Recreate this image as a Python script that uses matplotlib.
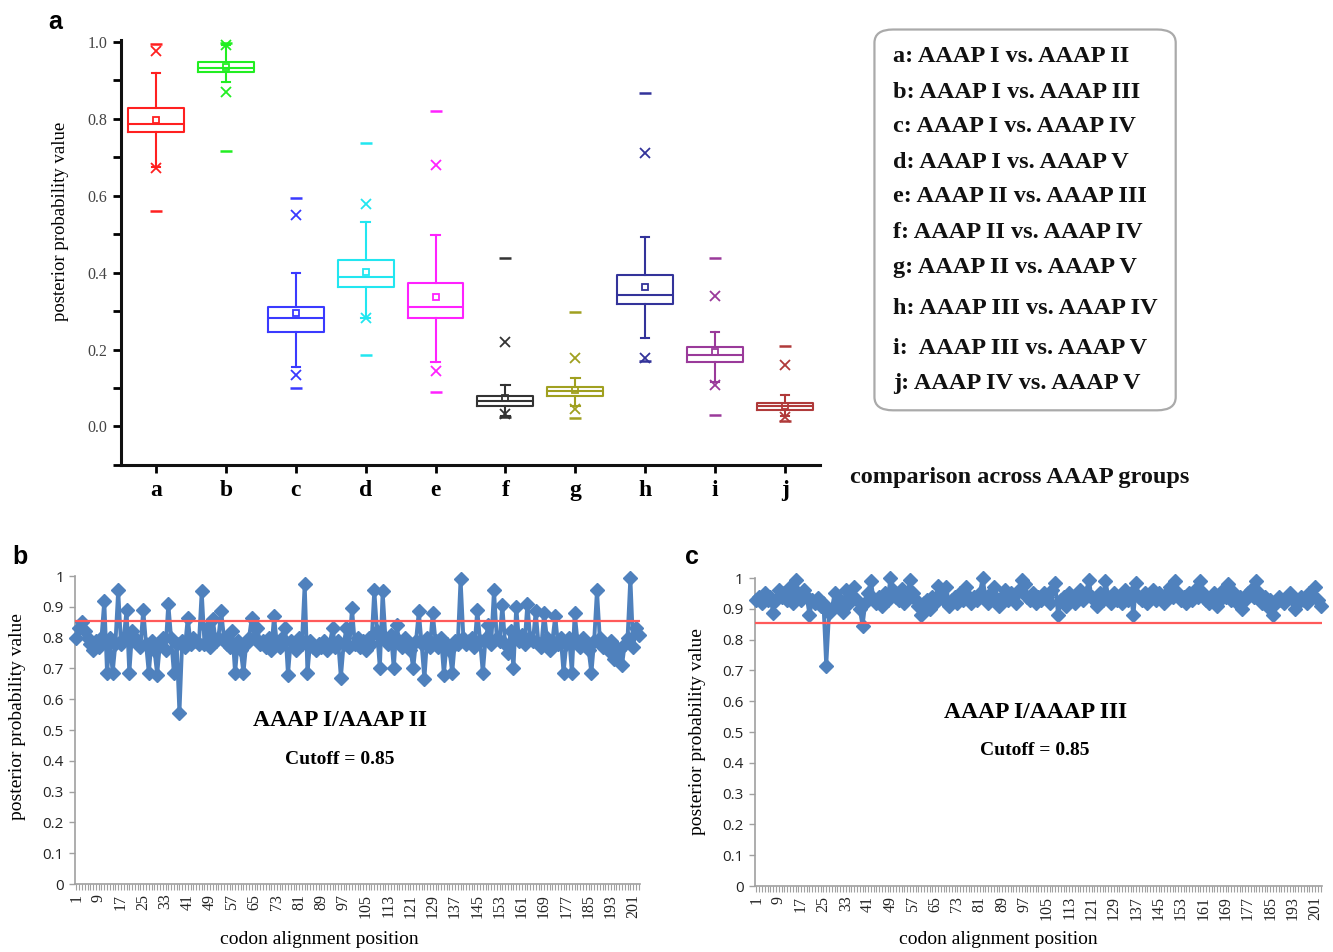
import matplotlib
matplotlib.use('Agg')
import matplotlib.pyplot as plt
from matplotlib.patches import FancyBboxPatch
from matplotlib.ticker import MultipleLocator, FixedLocator

# ---------------- data: panel a (box plots) ----------------
groups = ['a', 'b', 'c', 'd', 'e', 'f', 'g', 'h', 'i', 'j']
box_colors = ['#ff2020', '#22ee22', '#3a3aff', '#22e6f0', '#ff22ff',
              '#333333', '#a0a020', '#33339a', '#9a3a9a', '#b03a3a']
q1 = [0.767, 0.922, 0.247, 0.364, 0.281, 0.053, 0.080, 0.318, 0.168, 0.043]
med = [0.787, 0.931, 0.282, 0.389, 0.312, 0.067, 0.093, 0.342, 0.187, 0.053]
q3 = [0.827, 0.948, 0.312, 0.434, 0.372, 0.079, 0.104, 0.394, 0.207, 0.061]
means = [0.796, 0.935, 0.294, 0.402, 0.338, 0.074, 0.095, 0.363, 0.193, 0.054]
whis_lo = [0.674, 0.896, 0.156, 0.283, 0.169, 0.027, 0.054, 0.230, 0.117, 0.028]
whis_hi = [0.920, 0.991, 0.400, 0.533, 0.497, 0.109, 0.125, 0.492, 0.247, 0.082]
pct_lo = [0.672, 0.869, 0.133, 0.283, 0.145, 0.033, 0.046, 0.178, 0.109, 0.024]
pct_hi = [0.976, 0.993, 0.549, 0.578, 0.679, 0.220, 0.178, 0.711, 0.340, 0.160]
v_min = [0.560, 0.716, 0.099, 0.187, 0.089, 0.024, 0.022, 0.171, 0.030, 0.014]
v_max = [0.994, 0.996, 0.594, 0.737, 0.821, 0.438, 0.299, 0.866, 0.438, 0.210]

legend_lines = ['a: AAAP I vs. AAAP II', 'b: AAAP I vs. AAAP III',
                'c: AAAP I vs. AAAP IV', 'd: AAAP I vs. AAAP V',
                'e: AAAP II vs. AAAP III', 'f: AAAP II vs. AAAP IV',
                'g: AAAP II vs. AAAP V', 'h: AAAP III vs. AAAP IV',
                'i:  AAAP III vs. AAAP V', 'j: AAAP IV vs. AAAP V']

# ---------------- data: panels b, c (per-codon posterior) ----------------
post_I_II = [
    0.80, 0.83, 0.85, 0.82, 0.80, 0.78, 0.76, 0.79, 0.77, 0.80,
    0.92, 0.685, 0.80, 0.685, 0.78, 0.955, 0.78, 0.80, 0.89, 0.685,
    0.82, 0.80, 0.78, 0.77, 0.89, 0.78, 0.685, 0.79, 0.76, 0.68,
    0.78, 0.80, 0.76, 0.91, 0.80, 0.685, 0.78, 0.555, 0.79, 0.77,
    0.865, 0.78, 0.80, 0.79, 0.78, 0.95, 0.78, 0.83, 0.77, 0.86,
    0.79, 0.80, 0.885, 0.80, 0.78, 0.77, 0.82, 0.685, 0.79, 0.76,
    0.685, 0.78, 0.80, 0.865, 0.80, 0.83, 0.78, 0.79, 0.77, 0.80,
    0.76, 0.87, 0.78, 0.77, 0.80, 0.83, 0.68, 0.79, 0.78, 0.76,
    0.80, 0.78, 0.975, 0.685, 0.79, 0.77, 0.76, 0.78, 0.77, 0.79,
    0.76, 0.78, 0.83, 0.77, 0.79, 0.67, 0.78, 0.83, 0.77, 0.895,
    0.78, 0.80, 0.77, 0.79, 0.76, 0.80, 0.78, 0.955, 0.82, 0.70,
    0.95, 0.80, 0.78, 0.81, 0.70, 0.84, 0.79, 0.77, 0.80, 0.78,
    0.76, 0.70, 0.79, 0.885, 0.78, 0.665, 0.80, 0.77, 0.88, 0.79,
    0.77, 0.80, 0.68, 0.78, 0.76, 0.685, 0.79, 0.78, 0.99, 0.80,
    0.78, 0.79, 0.80, 0.77, 0.89, 0.79, 0.685, 0.80, 0.84, 0.78,
    0.955, 0.80, 0.79, 0.905, 0.78, 0.75, 0.82, 0.70, 0.90, 0.79,
    0.81, 0.78, 0.91, 0.80, 0.79, 0.885, 0.78, 0.77, 0.88, 0.80,
    0.76, 0.79, 0.87, 0.78, 0.80, 0.685, 0.78, 0.80, 0.685, 0.88,
    0.79, 0.77, 0.80, 0.78, 0.76, 0.685, 0.79, 0.955, 0.80, 0.77,
    0.78, 0.76, 0.79, 0.73, 0.77, 0.76, 0.71, 0.78, 0.80, 0.995,
    0.77, 0.83, 0.81]

post_I_III = [
    0.93, 0.94, 0.92, 0.95, 0.93, 0.94, 0.885, 0.93, 0.96, 0.94,
    0.95, 0.93, 0.97, 0.92, 0.995, 0.95, 0.93, 0.96, 0.94, 0.88,
    0.93, 0.92, 0.935, 0.91, 0.92, 0.715, 0.885, 0.90, 0.95, 0.91,
    0.93, 0.89, 0.96, 0.92, 0.94, 0.97, 0.93, 0.90, 0.845, 0.92,
    0.95, 0.99, 0.93, 0.92, 0.94, 0.91, 0.95, 0.93, 1.0, 0.96,
    0.94, 0.93, 0.965, 0.92, 0.94, 0.995, 0.95, 0.93, 0.91, 0.88,
    0.92, 0.93, 0.90, 0.94, 0.92, 0.975, 0.95, 0.93, 0.97, 0.91,
    0.93, 0.94, 0.92, 0.95, 0.93, 0.97, 0.94, 0.92, 0.94, 0.93,
    0.95, 1.0, 0.94, 0.92, 0.95, 0.97, 0.93, 0.91, 0.94, 0.96,
    0.93, 0.95, 0.94, 0.92, 0.96, 0.995, 0.98, 0.94, 0.93, 0.95,
    0.92, 0.94, 0.93, 0.95, 0.94, 0.92, 0.96, 0.985, 0.88, 0.93,
    0.94, 0.91, 0.95, 0.93, 0.92, 0.94, 0.96, 0.93, 0.95, 0.995,
    0.94, 0.93, 0.91, 0.95, 0.93, 0.99, 0.94, 0.92, 0.95, 0.93,
    0.94, 0.92, 0.96, 0.93, 0.95, 0.88, 0.985, 0.94, 0.93, 0.95,
    0.92, 0.94, 0.96, 0.93, 0.95, 0.94, 0.92, 0.95, 0.97, 0.94,
    0.99, 0.95, 0.93, 0.94, 0.92, 0.95, 0.93, 0.96, 0.94, 0.99,
    0.95, 0.93, 0.92, 0.94, 0.95, 0.91, 0.93, 0.96, 0.94, 0.98,
    0.93, 0.95, 0.92, 0.94, 0.90, 0.93, 0.95, 0.96, 0.94, 0.99,
    0.95, 0.92, 0.94, 0.91, 0.93, 0.88, 0.92, 0.94, 0.93, 0.92,
    0.94, 0.95, 0.93, 0.90, 0.92, 0.94, 0.93, 0.92, 0.95, 0.94,
    0.97, 0.93, 0.91]

cutoff = 0.855
codon_tick_labels = [str(v) for v in range(1, 202, 8)]
y_tick_labels_bc = ['0', '0.1', '0.2', '0.3', '0.4', '0.5', '0.6', '0.7', '0.8', '0.9', '1']

SERIF = ['Liberation Serif', 'DejaVu Serif']
SANS = ['Liberation Sans', 'DejaVu Sans']
SANS2 = ['Open Sans', 'DejaVu Sans']

fig = plt.figure(figsize=(13.33, 9.52), dpi=100)

# ---------------- panel a ----------------
ax = fig.add_axes([0.0908, 0.5116, 0.5243, 0.4464])
positions = list(range(1, len(groups) + 1))
for i, c in enumerate(box_colors):
    st = dict(med=med[i], q1=q1[i], q3=q3[i], whislo=whis_lo[i], whishi=whis_hi[i],
              mean=means[i], fliers=[])
    ax.bxp([st], positions=[positions[i]], widths=0.8, capwidths=0.12,
           showmeans=True, showfliers=False, manage_ticks=False,
           boxprops=dict(color=c, lw=1.5), medianprops=dict(color=c, lw=1.5),
           whiskerprops=dict(color=c, lw=1.5), capprops=dict(color=c, lw=1.5),
           meanprops=dict(marker='s', mfc='none', mec=c, ms=5, mew=1.3))
    ax.plot([positions[i], positions[i]], [pct_lo[i], pct_hi[i]], ls='none', marker='x',
            color=c, ms=7, mew=1.3, clip_on=False)
    ax.plot([positions[i], positions[i]], [v_min[i], v_max[i]], ls='none', marker='_',
            color=c, ms=8, mew=1.8, clip_on=False)

ax.set_xlim(0.5, 10.5)
ax.set_ylim(-0.1, 1.005)
ax.set_xticks(positions)
ax.set_xticklabels(groups, fontfamily=SERIF, fontweight='bold', fontsize=17)
ax.set_yticks([0.0, 0.2, 0.4, 0.6, 0.8, 1.0])
ax.set_yticklabels(['0.0', '0.2', '0.4', '0.6', '0.8', '1.0'], fontfamily=SERIF,
                   fontsize=11.5, color='#444444')
ax.yaxis.set_minor_locator(MultipleLocator(0.1))
for s in ['top', 'right']:
    ax.spines[s].set_visible(False)
for s in ['left', 'bottom']:
    ax.spines[s].set_linewidth(2.2)
    ax.spines[s].set_color('#111111')
ax.tick_params(axis='y', which='major', length=6, width=2, direction='out', pad=4)
ax.tick_params(axis='y', which='minor', length=6, width=2, direction='out')
ax.tick_params(axis='x', which='major', length=6, width=2, direction='out', pad=5)
ax.set_ylabel('posterior probability value', fontfamily=SERIF, fontsize=13.5)
ax.yaxis.set_label_coords(-0.074, 0.572)

fig.text(0.036, 0.977, 'a', fontfamily=SANS, fontweight='bold', fontsize=18, va='center')

# legend box
box = FancyBboxPatch((0.662, 0.575), 0.214, 0.388, transform=fig.transFigure,
                     boxstyle='round,pad=0.006,rounding_size=0.014',
                     fc='white', ec='#aaaaaa', lw=1.6)
fig.patches.append(box)
leg_y = [56, 92, 127, 162, 197, 233, 268, 309, 349, 384]
for txt, yy in zip(legend_lines, leg_y):
    fig.text(893 / 1333, 1 - yy / 952, txt, fontfamily=SERIF, fontweight='bold',
             fontsize=17.5, va='center', ha='left', color='#111111')
fig.text(850 / 1333, 1 - 477 / 952, 'comparison across AAAP groups', fontfamily=SERIF,
         fontweight='bold', fontsize=17.5, va='center', ha='left', color='#111111')


# ---------------- panels b and c ----------------
def line_panel(rect, values, title, title_y, cut_y, letter_xy, xlab_xy, ylab_xy):
    a = fig.add_axes(rect)
    pos = list(range(1, len(values) + 1))
    a.plot(pos, values, color='#4F81BD', lw=2.8, marker='D', ms=7, mec='#4F81BD',
           clip_on=False, zorder=3)
    a.axhline(cutoff, color='#ff5a5a', lw=1.6, zorder=4)
    a.set_xlim(0.5, len(values) + 0.5)
    a.set_ylim(0, 1)
    a.xaxis.set_major_locator(FixedLocator(list(range(1, 202, 8))))
    a.set_xticklabels(codon_tick_labels, rotation=90, fontfamily=SERIF, fontsize=11.5,
                      color='#222222')
    a.xaxis.set_minor_locator(MultipleLocator(1))
    a.set_yticks([i / 10 for i in range(11)])
    a.set_yticklabels(y_tick_labels_bc, fontfamily=SANS2, fontsize=11, color='#222222')
    for s in ['top', 'right']:
        a.spines[s].set_visible(False)
    for s in ['left', 'bottom']:
        a.spines[s].set_color('#a0a0a0')
        a.spines[s].set_linewidth(1.2)
    a.tick_params(axis='x', which='both', length=4, width=0.8, color='#a0a0a0', pad=3)
    a.tick_params(axis='y', which='major', length=4, width=1, color='#a0a0a0', pad=4)
    a.set_ylabel('posterior probability value', fontfamily=SERIF, fontsize=14)
    a.yaxis.set_label_coords(*ylab_xy)
    a.set_xlabel('codon alignment position', fontfamily=SERIF, fontsize=14)
    a.xaxis.set_label_coords(*xlab_xy)
    a.text(title[1], title_y, title[0], transform=a.transAxes, ha='center', va='center',
           fontfamily=SERIF, fontweight='bold', fontsize=17)
    a.text(title[1], cut_y, 'Cutoff = 0.85', transform=a.transAxes, ha='center',
           va='center', fontfamily=SERIF, fontweight='bold', fontsize=14)
    fig.text(letter_xy[0], letter_xy[1], letter_xy[2], fontfamily=SANS, fontweight='bold',
             fontsize=18, va='center')
    return a


line_panel([0.0563, 0.0714, 0.4239, 0.3235], post_I_II, ('AAAP I/AAAP II', 0.469),
           0.53, 0.405, (0.009, 1 - 557 / 952, 'b'), (0.432, -0.152), (-0.087, 0.545))
line_panel([0.5664, 0.0693, 0.4253, 0.3235], post_I_III, ('AAAP I/AAAP III', 0.494),
           0.565, 0.44, (0.514, 1 - 557 / 952, 'c'), (0.429, -0.146), (-0.086, 0.503))

fig.savefig('out.png', dpi=100)
